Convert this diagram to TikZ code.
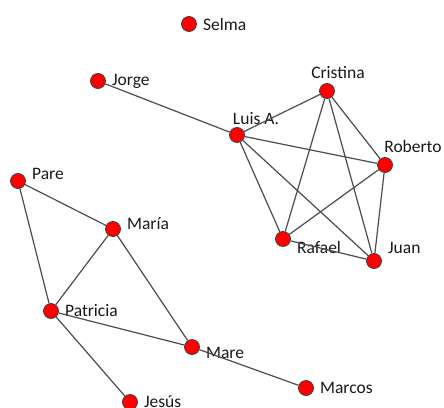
\documentclass[tikz,border=0pt]{standalone}
\usepackage{fontspec}
\setmainfont{Carlito}
\begin{document}
\begin{tikzpicture}[x=1pt, y=-1pt,
    persona/.style={circle, draw=black!75, line width=0.8pt, fill=red, minimum size=15pt, inner sep=0pt},
    enlace/.style={black!70, line width=1.2pt},
    every label/.style={inner sep=0pt, font=\fontsize{17.5}{20}\selectfont, text=black!90},
    label distance=6pt]

  \clip (0,0) rectangle (444,407);

  % 节点
  \node [persona, label=right:Selma] (selma) at (189,24) {};
  \node [persona, label=right:Jorge] (jorge) at (98,81) {};
  \node [persona, label={[xshift=11pt, yshift=-2pt]above:Cristina}] (cristina) at (327,91) {};
  \node [persona, label={[xshift=19pt, yshift=-4pt]above:Luis A.}] (luis) at (237,135) {};
  \node [persona, label={[xshift=28pt, yshift=-2pt]above:Roberto}] (roberto) at (385,165) {};
  \node [persona, label={[yshift=7pt]right:Pare}] (pare) at (18,181) {};
  \node [persona, label={[yshift=5pt]right:María}] (maria) at (113,229) {};
  \node [persona, label={[yshift=-8pt]right:Rafael}] (rafael) at (283,239) {};
  \node [persona, label={[yshift=13pt]right:Juan}] (juan) at (374,261) {};
  \node [persona, label=right:Patricia] (patricia) at (51,311) {};
  \node [persona, label={[yshift=-6pt]right:Mare}] (mare) at (192,347) {};
  \node [persona, label=right:Marcos] (marcos) at (306,388) {};
  \node [persona, label=right:Jesús] (jesus) at (130,402) {};

  % 连接
  \foreach \a/\b in {jorge/luis, luis/cristina, luis/roberto, luis/rafael, luis/juan,
                     cristina/rafael, cristina/juan, cristina/roberto,
                     roberto/rafael, roberto/juan, rafael/juan,
                     pare/maria, pare/patricia, maria/patricia, maria/mare,
                     patricia/mare, patricia/jesus, mare/marcos}
      \draw [enlace] (\a) -- (\b);

\end{tikzpicture}
\end{document}
